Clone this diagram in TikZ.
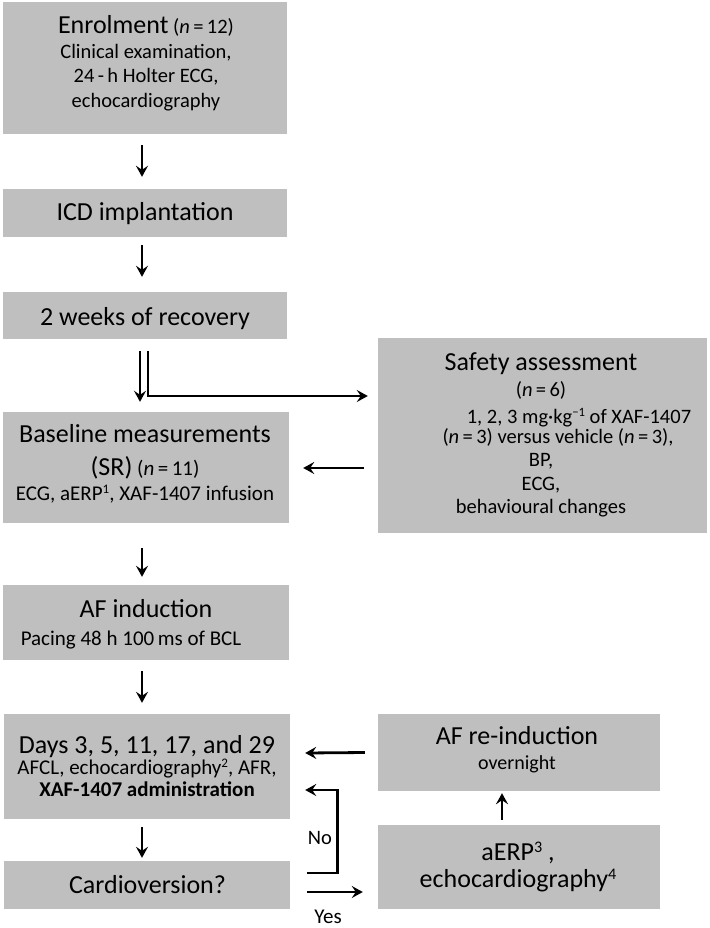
\documentclass[tikz,border=0pt]{standalone}
\usepackage{fontspec}
\setmainfont{Carlito}
\usetikzlibrary{arrows.meta}
\definecolor{boxgray}{RGB}{191,191,191}
\newcommand{\Tfont}{\fontsize{26}{30}\selectfont}
\newcommand{\sups}[1]{\raisebox{0.33em}{\fontsize{0.62em}{0.7em}\selectfont #1}}
\begin{document}
\begin{tikzpicture}[x=1pt,y=-1pt,
  box/.style={fill=boxgray, draw=none, inner sep=0pt, rectangle},
  txt/.style={inner sep=0pt, align=center, text=black},
  arr/.style={line width=2.8pt, -{Stealth[length=11pt,width=12pt,inset=4pt]}},
  lbl/.style={inner sep=0pt, font=\fontsize{20.5}{24}\selectfont}]
\useasboundingbox[fill=white] (0,0) rectangle (709,928);

% boxes
\node[box, minimum width=284pt, minimum height=132pt] (enrol) at (145,68) {};
\node[box, minimum width=284pt, minimum height=48pt] (icd) at (145,213) {};
\node[box, minimum width=284pt, minimum height=47pt] (rec) at (145,315.5) {};
\node[box, minimum width=286pt, minimum height=111pt] (base) at (146,467.5) {};
\node[box, minimum width=286pt, minimum height=75pt] (afind) at (146,622.5) {};
\node[box, minimum width=286pt, minimum height=105pt] (days) at (147,766.5) {};
\node[box, minimum width=286pt, minimum height=48pt] (cardio) at (147,885) {};
\node[box, minimum width=329pt, minimum height=195pt] (safety) at (542.5,435.5) {};
\node[box, minimum width=282pt, minimum height=77pt] (reind) at (519,752.5) {};
\node[box, minimum width=282pt, minimum height=84pt] (aerp) at (519,867) {};

% texts
\node[txt, font=\fontsize{20.5}{24.5}\selectfont] (enrolT) at (146,63)
  {{\Tfont Enrolment} (\textit{n}\,=\,12)\\ Clinical examination,\\ 24\,-\,h Holter ECG,\\ echocardiography};
\node[txt, font=\Tfont, anchor=base] (icdT) at (145,220) {ICD implantation};
\node[txt, font=\Tfont, anchor=base] (recT) at (145,325) {2 weeks of recovery};
\node[txt, font=\fontsize{21}{24.5}\selectfont] (baseT) at (145,464)
  {{\Tfont Baseline measurements}\\[8.5pt] {\Tfont (SR)} (\textit{n}\,=\,11)\\ ECG, aERP\sups{1}, XAF-1407 infusion};
\node[txt, font=\fontsize{21}{24.5}\selectfont] (afindT) at (146,624)
  {{\Tfont AF induction}\\[3.5pt] Pacing 48 h 100\,ms of BCL\hspace*{30pt}};
\node[txt, font=\fontsize{21}{22.5}\selectfont] (daysT) at (147,766)
  {{\Tfont Days 3, 5, 11, 17, and 29}\\[-1.5pt] AFCL, echocardiography\sups{2}, AFR,\\ \textbf{XAF-1407 administration}};
\node[txt, font=\Tfont, anchor=base] (cardioT) at (147.5,893) {Cardioversion?};
\node[txt, font=\fontsize{20.5}{23.5}\selectfont] (safetyT) at (541,435)
  {{\Tfont Safety assessment}\\[2.5pt] (\textit{n}\,=\,6)\\[3.5pt]
   \hspace*{76pt}1, 2, 3 mg·kg\sups{−1} of XAF-1407\\[-3.5pt]
   \hspace*{34pt}(\textit{n}\,=\,3) versus vehicle (\textit{n}\,=\,3),\\ BP,\\ ECG,\\ behavioural changes};
\node[txt, font=\fontsize{20}{25}\selectfont] (reindT) at (517,750)
  {{\Tfont AF re-induction}\\ overnight};
\node[txt, font=\fontsize{26}{27}\selectfont] (aerpT) at (518,867)
  {aERP\sups{3} ,\\ echocardiography\sups{4}};

% labels
\node[lbl, anchor=base] (nolab) at (320,844) {No};
\node[lbl, anchor=base, font=\fontsize{21}{24}\selectfont] (yeslab) at (328,923) {Yes};

% connectors
\draw[arr] ([xshift=-3pt,yshift=-11pt]enrol.south) -- ([xshift=-3pt,yshift=12pt]icd.north);
\draw[arr] ([xshift=-3pt,yshift=-8pt]icd.south) -- ([xshift=-3pt,yshift=15pt]rec.north);
\draw[arr] ([xshift=-5pt,yshift=-12pt]rec.south) -- ([xshift=-6pt,yshift=10pt]base.north);
\draw[arr] ([xshift=3pt,yshift=-12pt]rec.south) |- ([xshift=-10pt,yshift=39.5pt]safety.west);
\draw[arr] ([xshift=-14pt,yshift=-32.5pt]safety.west) -- ([xshift=14pt,yshift=-0.5pt]base.east);
\draw[arr] ([xshift=-4pt,yshift=-25pt]base.south) -- ([xshift=-4pt,yshift=8pt]afind.north);
\draw[arr] ([xshift=-4pt,yshift=-11pt]afind.south) -- ([xshift=-5pt,yshift=11pt]days.north);
\draw[arr] ([xshift=-5pt,yshift=-8pt]days.south) -- ([xshift=-5pt,yshift=3pt]cardio.north);
\draw[arr] ([xshift=-13pt]reind.west) -- ([xshift=15pt,yshift=13.5pt]days.east);
\draw[arr] ([xshift=17pt,yshift=12pt]cardio.east) -| ([xshift=47pt,yshift=-23.5pt]days.east) -- ([xshift=15pt,yshift=-23.5pt]days.east);
\draw[arr] ([xshift=17pt,yshift=-7pt]cardio.east) -- ([xshift=-15pt,yshift=-25pt]aerp.west);
\draw[arr] ([xshift=-17pt,yshift=5pt]aerp.north) -- ([xshift=-17pt,yshift=-2pt]reind.south);
\end{tikzpicture}
\end{document}
